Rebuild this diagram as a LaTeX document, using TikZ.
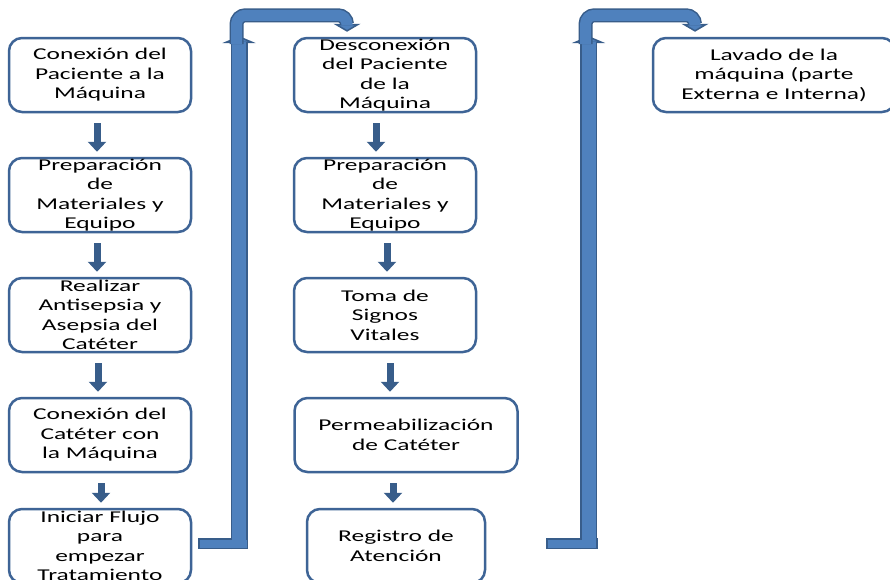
\documentclass[tikz,border=0pt]{standalone}
\usepackage{fontspec}
\setmainfont{Carlito}[FakeStretch=1.54]
\definecolor{boxline}{RGB}{62,100,150}
\definecolor{pipeline}{RGB}{56,93,138}
\definecolor{pipefill}{RGB}{79,129,189}
\usetikzlibrary{positioning,arrows.meta}

\begin{document}
\begin{tikzpicture}[
    x=1pt, y=-1pt,
    stepbox/.style={rectangle, rounded corners=13pt, draw=boxline, line width=2.5pt, fill=white, minimum width=182pt, minimum height=74pt, inner xsep=2pt, inner ysep=-4pt, align=center, font=\fontsize{16.5pt}{19.5pt}\selectfont},
    flow/.style={draw=pipeline, line width=7pt, -{Triangle[length=10pt,width=18pt]}, shorten <=10pt, shorten >=5pt},
    pipe edge/.style={draw=pipeline, line width=#1},
    pipe core/.style={draw=pipefill, line width=#1-3pt},
    flange/.style={-{Triangle[width=33pt,length=7pt,line width=1.5pt,fill=pipefill]}},
    droptip/.style={-{Triangle[width=27pt,length=8pt,line width=1.5pt,fill=pipefill]}},
    node distance=43.5pt
]
    \fill[white] (0,0) rectangle (890,579);
    \useasboundingbox (0,0) rectangle (890,579);

    % column one
    \node[stepbox] (c1) at (100,75) {Conexión del\\Paciente a la\\Máquina};
    \node[stepbox, below=of c1] (c2) {Preparación\\de\\Materiales y\\Equipo};
    \node[stepbox, below=of c2] (c3) {Realizar\\Antisepsia y\\Asepsia del\\Catéter};
    \node[stepbox, below=of c3] (c4) {Conexión del\\Catéter con\\la Máquina};
    \node[stepbox, below=34.5pt of c4] (c5) {Iniciar Flujo\\para\\empezar\\Tratamiento};

    % column two
    \node[stepbox] (d1) at (385,75) {Desconexión\\del Paciente\\de la\\Máquina};
    \node[stepbox, below=of d1] (d2) {Preparación\\de\\Materiales y\\Equipo};
    \node[stepbox, below=of d2] (d3) {Toma de\\Signos\\Vitales};
    \node[stepbox, below=of d3, xshift=21pt, minimum width=223pt] (d4) {Permeabilización\\de Catéter};
    \node[stepbox, below=34.5pt of d4, xshift=-10pt, minimum width=178pt] (d5) {Registro de\\Atención};

    % column three
    \node[stepbox, minimum width=242pt] (l1) at (774,75) {Lavado de la\\máquina (parte\\Externa e Interna)};

    \draw[flow] ([xshift=-3pt]c1.south) -- ([xshift=-3pt]c2.north);
    \draw[flow] ([xshift=-3pt]c2.south) -- ([xshift=-3pt]c3.north);
    \draw[flow] ([xshift=-2pt]c3.south) -- ([xshift=-2pt]c4.north);
    \draw[flow] ([xshift=1pt]c4.south) -- ([xshift=1pt]c5.north);

    \draw[flow] ([xshift=-9pt]d1.south) -- ([xshift=-9pt]d2.north);
    \draw[flow] ([xshift=2pt]d2.south) -- ([xshift=2pt]d3.north);
    \draw[flow] ([xshift=5pt]d3.south) -- ([xshift=5pt]d3.south |- d4.north);
    \draw[flow] ([xshift=-13pt]d4.south) -- ([xshift=-13pt]d4.south |- d5.north);

    % the two big turns
    \coordinate (foot1) at (239,543.5);
    \coordinate (drop1) at ([xshift=-38pt,yshift=5pt]d1.north);
    \coordinate (tail2) at (546,543.5);
    \coordinate (foot2) at (588.5,543.5);
    \coordinate (drop2) at ([xshift=-79pt,yshift=5pt]l1.north);

    % outlines first, then the fill, so the bends merge
    \draw[pipe edge=11] ([xshift=6pt]c5.east |- foot1) -- ([xshift=9pt]foot1);
    \draw[pipe edge=17, flange] ([yshift=-5.5pt]foot1) -- (foot1 |- 0,36);
    \draw[pipe core=11] ([xshift=7.5pt]c5.east |- foot1) -- ([xshift=7.5pt]foot1);
    \draw[pipe core=17, shorten >=5.5pt] ([yshift=-4pt]foot1) -- (foot1 |- 0,36);
    \draw[pipe edge=14, droptip, rounded corners=9pt] ([xshift=-2.5pt]foot1 |- 0,44) |- ([yshift=16.5pt]drop1) -- (drop1);
    \draw[pipe core=14, shorten >=6.5pt, rounded corners=9pt] ([xshift=-2.5pt]foot1 |- 0,44) |- ([yshift=16.5pt]drop1) -- (drop1);

    \draw[pipe edge=11] (tail2) -- ([xshift=9pt]foot2);
    \draw[pipe edge=17, flange] ([yshift=-5.5pt]foot2) -- (foot2 |- 0,36);
    \draw[pipe core=11] ([xshift=1.5pt]tail2) -- ([xshift=7.5pt]foot2);
    \draw[pipe core=17, shorten >=5.5pt] ([yshift=-4pt]foot2) -- (foot2 |- 0,36);
    \draw[pipe edge=14, droptip, rounded corners=9pt] ([xshift=-3pt]foot2 |- 0,44) |- ([yshift=16.5pt]drop2) -- (drop2);
    \draw[pipe core=14, shorten >=6.5pt, rounded corners=9pt] ([xshift=-3pt]foot2 |- 0,44) |- ([yshift=16.5pt]drop2) -- (drop2);
\end{tikzpicture}
\end{document}
